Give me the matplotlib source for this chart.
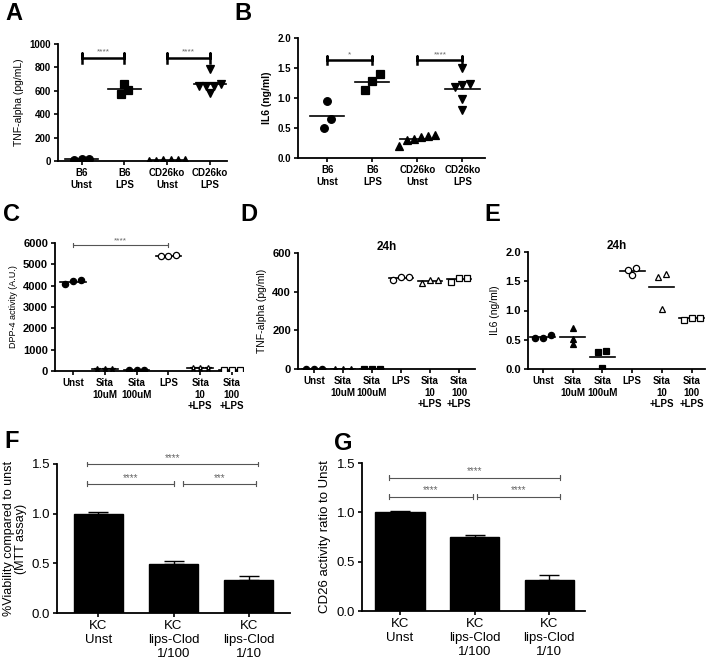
import numpy as np
import matplotlib
matplotlib.use('Agg')
import matplotlib.pyplot as plt

plt.rcParams['font.family'] = ['Liberation Sans', 'DejaVu Sans']

# ---- data ----
ab_labels = ['B6\nUnst', 'B6\nLPS', 'CD26ko\nUnst', 'CD26ko\nLPS']
a_tnf = [[15, 10, 15],
         [575, 610, 655],
         [5, 4, 6, 5, 4, 6],
         [790, 580, 640, 660, 640, 640]]
b_il6 = [[0.95, 0.65, 0.50],
         [1.40, 1.28, 1.13],
         [0.38, 0.35, 0.20, 0.30, 0.37, 0.32],
         [1.50, 1.24, 1.22, 1.18, 0.98, 0.80]]

sita_labels = ['Unst', 'Sita\n10uM', 'Sita\n100uM', 'LPS', 'Sita\n10\n+LPS', 'Sita\n100\n+LPS']
c_dpp4 = [[4250, 4100, 4200],
          [100, 90, 110],
          [50, 45, 55],
          [5420, 5380, 5380],
          [150, 140, 150],
          [50, 40, 50]]
d_tnf = [[0, 0, 0],
         [0, 0, 0],
         [0, 0, 0],
         [478, 460, 478],
         [460, 445, 458],
         [470, 450, 470]]
e_il6 = [[0.58, 0.53, 0.53],
         [0.70, 0.42, 0.52],
         [0.31, 0.29, 0.02],
         [1.60, 1.72, 1.70],
         [1.62, 1.58, 1.03],
         [0.88, 0.84, 0.88]]

kc_labels = ['KC\nUnst', 'KC\nlips-Clod\n1/100', 'KC\nlips-Clod\n1/10']
f_viab = [1.0, 0.49, 0.335]
f_err = [0.015, 0.03, 0.04]
g_cd26 = [1.0, 0.75, 0.315]
g_err = [0.01, 0.025, 0.05]

W, H = 709, 659
fig = plt.figure(figsize=(W / 100, H / 100), dpi=100)


def box(x0, y0, x1, y1):
    return [x0 / W, 1 - y1 / H, (x1 - x0) / W, (y1 - y0) / H]


def style(ax, fs=7):
    for s in ['top', 'right']:
        ax.spines[s].set_visible(False)
    for s in ['left', 'bottom']:
        ax.spines[s].set_linewidth(1.3)
    ax.tick_params(direction='out', length=3, width=1.2, labelsize=fs, pad=2)
    for t in ax.get_xticklabels() + ax.get_yticklabels():
        t.set_fontweight('bold')


def spread(vals, thr, step):
    vals = np.asarray(vals, float)
    order = np.argsort(vals)
    offs = np.zeros(len(vals))
    cluster = [order[0]]
    groups = []
    for i in order[1:]:
        if vals[i] - vals[cluster[-1]] < thr:
            cluster.append(i)
        else:
            groups.append(cluster)
            cluster = [i]
    groups.append(cluster)
    for c in groups:
        n = len(c)
        offs[c] = (np.arange(n) - (n - 1) / 2) * step
    return offs


def dotplot(ax, groups, markers, filled, thr, step=0.17, ms=5, mw=0.3):
    for i, vals in enumerate(groups):
        x = i + spread(vals, thr, step)
        fc = 'black' if filled[i] else 'white'
        ax.plot(x, vals, linestyle='none', marker=markers[i], ms=ms,
                mfc=fc, mec='black', mew=0.9, zorder=3)
        ax.plot([i - mw, i + mw], [np.mean(vals)] * 2, color='black', lw=1.2, zorder=2)


def bracket(ax, x0, x1, y, h, txt, lw=1.8, color='black', fs=6):
    ax.plot([x0, x0, x0, x0, x1, x1, x1], [y - h, y + h, y, y, y, y + h, y - h],
            color=color, lw=lw, clip_on=False)
    ax.text((x0 + x1) / 2, y + h * 0.5, txt, ha='center', va='bottom',
            fontsize=fs, color='#666666')


def letter(x, y, s):
    fig.text(x / W, 1 - y / H, s, fontsize=17, fontweight='bold', va='top', ha='left')


# ---- A ----
ax = fig.add_axes(box(58, 44, 227, 161))
dotplot(ax, a_tnf, ['o', 's', '^', 'v'], [1, 1, 1, 1], thr=40, step=0.17, ms=5.5, mw=0.38)
ax.set_xlim(-0.55, 3.4)
ax.set_ylim(0, 1000)
ax.set_yticks(np.arange(0, 1001, 200))
ax.set_xticks(range(4))
ax.set_xticklabels(ab_labels)
ax.set_ylabel('TNF-alpha (pg/mL)', fontsize=7.5)
style(ax)
bracket(ax, 0, 1, 880, 40, '****')
bracket(ax, 2, 3, 880, 40, '****')
letter(5, 2, 'A')

# ---- B ----
ax = fig.add_axes(box(298, 38, 485, 158))
dotplot(ax, b_il6, ['o', 's', '^', 'v'], [1, 1, 1, 1], thr=0.16, step=0.16, ms=5.5, mw=0.38)
ax.set_xlim(-0.65, 3.5)
ax.set_ylim(0, 2.0)
ax.set_yticks(np.arange(0, 2.01, 0.5))
ax.yaxis.set_major_formatter(matplotlib.ticker.FormatStrFormatter('%.1f'))
ax.set_xticks(range(4))
ax.set_xticklabels(ab_labels)
ax.set_ylabel('IL6 (ng/ml)', fontsize=7.5, fontweight='bold')
style(ax)
bracket(ax, 0, 1, 1.63, 0.07, '*')
bracket(ax, 2, 3, 1.63, 0.07, '****')
letter(234, 2, 'B')

sita_markers = ['o', '^', 's', 'o', '^', 's']
sita_filled = [1, 1, 1, 0, 0, 0]

# ---- C ----
ax = fig.add_axes(box(55, 243, 243, 371))
dotplot(ax, c_dpp4, ['o', '*', 'o', 'o', '*', 's'], sita_filled, thr=400, step=0.24,
        ms=4.5, mw=0.4)
ax.set_xlim(-0.57, 5.35)
ax.set_ylim(0, 6000)
ax.set_yticks(np.arange(0, 6001, 1000))
ax.set_xticks(range(6))
ax.set_xticklabels(sita_labels)
ax.set_ylabel('DPP-4 activity (A.U.)', fontsize=6.5)
style(ax, fs=7)
for t in ax.get_yticklabels():
    t.set_fontsize(8)
bracket(ax, 0, 3, 5900, 90, '****', lw=0.8, color='#555555')
letter(3, 203, 'C')

# ---- D ----
ax = fig.add_axes(box(298, 253, 475, 369))
dotplot(ax, d_tnf, sita_markers, sita_filled, thr=40, step=0.27, ms=4.5, mw=0.42)
ax.set_xlim(-0.55, 5.55)
ax.set_ylim(0, 600)
ax.set_yticks(np.arange(0, 601, 200))
ax.set_xticks(range(6))
ax.set_xticklabels(sita_labels)
ax.set_ylabel('TNF-alpha (pg/ml)', fontsize=7.5)
ax.set_title('24h', fontsize=8.5, fontweight='bold', pad=2)
style(ax, fs=7)
for t in ax.get_yticklabels():
    t.set_fontsize(8)
letter(240, 203, 'D')

# ---- E ----
ax = fig.add_axes(box(528, 252, 705, 369))
dotplot(ax, e_il6, sita_markers, sita_filled, thr=0.09, step=0.27, ms=4.5, mw=0.42)
ax.set_xlim(-0.5, 5.45)
ax.set_ylim(0, 2.0)
ax.set_yticks(np.arange(0, 2.01, 0.5))
ax.yaxis.set_major_formatter(matplotlib.ticker.FormatStrFormatter('%.1f'))
ax.set_xticks(range(6))
ax.set_xticklabels(sita_labels)
ax.set_ylabel('IL6 (ng/ml)', fontsize=7.5)
ax.set_title('24h', fontsize=8.5, fontweight='bold', pad=2)
style(ax, fs=7)
for t in ax.get_yticklabels():
    t.set_fontsize(8)
letter(484, 203, 'E')


def barplot(ax, vals, errs):
    x = np.arange(len(vals))
    ax.bar(x, vals, width=0.66, color='black', edgecolor='black', zorder=2)
    ax.errorbar(x, vals, yerr=[np.zeros(len(errs)), errs], fmt='none', ecolor='black',
                elinewidth=1, capsize=7, capthick=1, zorder=1)
    ax.set_ylim(0, 1.5)
    ax.set_yticks(np.arange(0, 1.51, 0.5))
    ax.yaxis.set_major_formatter(matplotlib.ticker.FormatStrFormatter('%.1f'))
    ax.set_xticks(x)
    ax.set_xticklabels(kc_labels)
    for s in ['top', 'right']:
        ax.spines[s].set_visible(False)
    for s in ['left', 'bottom']:
        ax.spines[s].set_linewidth(1.3)
    ax.tick_params(direction='out', length=3, width=1.2, labelsize=9.5, pad=2)


# ---- F ----
ax = fig.add_axes(box(57, 464, 290, 613))
barplot(ax, f_viab, f_err)
ax.set_xlim(-0.55, 2.55)
ax.set_ylabel('%Viability compared to unst\n(MTT assay)', fontsize=9, linespacing=1.0,
              labelpad=3)
bracket(ax, -0.15, 2.12, 1.5, 0.025, '****', lw=0.8, color='#555555', fs=7)
bracket(ax, -0.15, 1.0, 1.3, 0.025, '****', lw=0.8, color='#555555', fs=7)
bracket(ax, 1.12, 2.1, 1.3, 0.025, '***', lw=0.8, color='#555555', fs=7)
letter(4, 430, 'F')

# ---- G ----
ax = fig.add_axes(box(362, 463, 585, 611))
barplot(ax, g_cd26, g_err)
ax.set_xlim(-0.51, 2.48)
ax.set_ylabel('CD26 activity ratio to Unst', fontsize=9.5)
bracket(ax, -0.15, 2.15, 1.35, 0.025, '****', lw=0.8, color='#555555', fs=7)
bracket(ax, -0.15, 0.98, 1.16, 0.025, '****', lw=0.8, color='#555555', fs=7)
bracket(ax, 1.03, 2.15, 1.16, 0.025, '****', lw=0.8, color='#555555', fs=7)
letter(334, 432, 'G')

fig.savefig('out.png', dpi=100)
